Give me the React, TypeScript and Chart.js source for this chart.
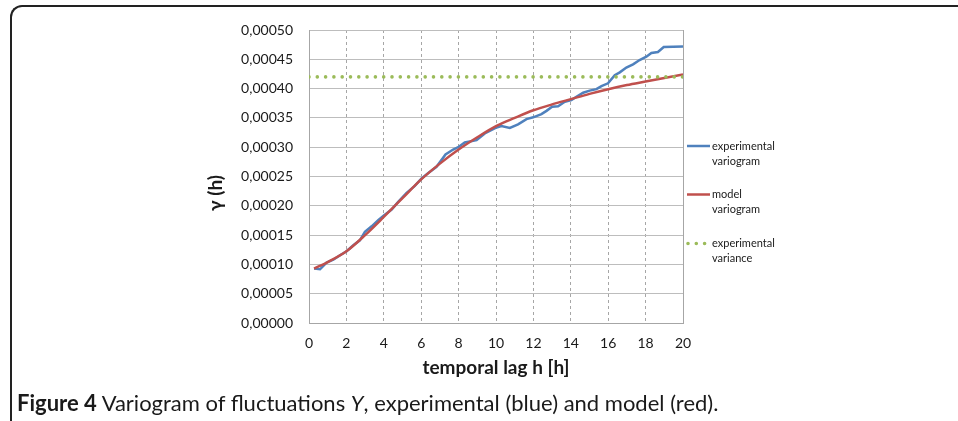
import React, { useEffect, useRef } from "react";
import { Chart, registerables } from "chart.js";

Chart.register(...registerables);

// Experimental variogram: lag h [h] and gamma(h)
const expLag = [
  0.27, 0.59, 0.94, 1.3, 1.66, 2.01, 2.37, 2.72, 2.99, 3.35, 3.7, 4.02, 4.42, 4.77, 5.22,
  5.66, 6.02, 6.38, 6.82, 7.3, 7.71, 8.01, 8.33, 8.96, 9.4, 10.03, 10.29, 10.74, 11.18,
  11.63, 11.99, 12.43, 12.7, 13.0, 13.32, 13.68, 14.03, 14.3, 14.66, 15.01, 15.37, 15.64,
  15.99, 16.35, 16.62, 16.97, 17.33, 17.68, 18.04, 18.31, 18.66, 18.97, 19.47, 20.0,
];
const expGamma = [
  0.0000928, 0.0000917, 0.000103, 0.000108, 0.0001156, 0.0001224, 0.0001327, 0.000141,
  0.0001555, 0.000165, 0.0001754, 0.000184, 0.0001936, 0.0002067, 0.000222, 0.000234,
  0.0002466, 0.000256, 0.0002665, 0.0002876, 0.000296, 0.0003007, 0.000308, 0.000312,
  0.0003235, 0.0003337, 0.000336, 0.000333, 0.000339, 0.000348, 0.000351, 0.0003565,
  0.000362, 0.000369, 0.00037, 0.0003775, 0.0003805, 0.000386, 0.000393, 0.0003965,
  0.000399, 0.0004043, 0.000409, 0.000423, 0.0004277, 0.000436, 0.0004413, 0.0004487,
  0.0004544, 0.0004607, 0.0004624, 0.000471, 0.0004715, 0.000472,
];

// Fitted model variogram
const modelLag = [0.27, 1, 2, 3, 4, 5, 6, 7, 8, 9, 10, 11, 12, 13, 14, 15, 16, 17, 18, 19, 20];
const modelGamma = [
  0.0000928, 0.000104, 0.0001224, 0.00015, 0.000181, 0.000213, 0.000245, 0.000272,
  0.000296, 0.000317, 0.000336, 0.00035, 0.000363, 0.000373, 0.000382, 0.000391, 0.000399,
  0.000406, 0.000412, 0.000418, 0.000424,
];

// Experimental variance (constant level)
const varianceLag = [0, 20];
const varianceValue = [0.00042, 0.00042];

const legendLabels = [
  ["experimental", "variogram"],
  ["model", "variogram"],
  ["experimental", "variance"],
];

const xTitle = "temporal lag h [h]";
const yTitle = "γ (h)";

const FONT = "Lato, 'Open Sans', sans-serif";
const BLUE = "#4F81BD";
const RED = "#C0504D";
const GREEN = "#9BBB59";
const TEXT = "#1a1a1a";

const pts = (xs: number[], ys: number[]) => xs.map((x, i) => ({ x, y: ys[i] }));

const decorPlugin = {
  id: "decor",
  beforeDatasetsDraw(chart: any) {
    const { ctx, chartArea } = chart;
    ctx.save();
    ctx.strokeStyle = "#A6A6A6";
    ctx.lineWidth = 1;
    ctx.beginPath();
    ctx.moveTo(Math.round(chartArea.right) + 0.5, chartArea.top);
    ctx.lineTo(Math.round(chartArea.right) + 0.5, chartArea.bottom);
    ctx.stroke();
    ctx.restore();
  },
  afterDraw(chart: any) {
    const { ctx, chartArea } = chart;
    ctx.save();
    ctx.fillStyle = TEXT;
    // axis titles
    ctx.font = `bold 19px ${FONT}`;
    ctx.textAlign = "center";
    ctx.textBaseline = "middle";
    ctx.fillText(xTitle, (chartArea.left + chartArea.right) / 2, chartArea.bottom + 45);
    ctx.save();
    ctx.translate(chartArea.left - 93, chartArea.top + 163);
    ctx.rotate(-Math.PI / 2);
    ctx.fillText(yTitle, 0, 0);
    ctx.restore();

    // legend
    const x0 = chartArea.right + 4;
    const rows = [chartArea.top + 116, chartArea.top + 164.5, chartArea.top + 213.5];
    chart.data.datasets.forEach((ds: any, i: number) => {
      const y = rows[i];
      ctx.strokeStyle = ds.borderColor;
      ctx.lineWidth = ds.borderWidth;
      ctx.lineCap = ds.borderCapStyle || "butt";
      ctx.setLineDash(ds.borderDash || []);
      ctx.beginPath();
      if (ds.borderDash) {
        ctx.moveTo(x0 + 1, y);
        ctx.lineTo(x0 + 19, y);
      } else {
        ctx.moveTo(x0, y);
        ctx.lineTo(x0 + 23, y);
      }
      ctx.stroke();
      ctx.setLineDash([]);
      ctx.fillStyle = TEXT;
      ctx.font = `11px ${FONT}`;
      ctx.textAlign = "left";
      ctx.textBaseline = "middle";
      legendLabels[i].forEach((line, j) => ctx.fillText(line, x0 + 25, y + j * 15));
    });
    ctx.restore();
  },
};

export default function App() {
  const ref = useRef<HTMLCanvasElement>(null);

  useEffect(() => {
    if (!ref.current) return;
    const chart = new Chart(ref.current, {
      type: "line",
      data: {
        datasets: [
          {
            label: "experimental variogram",
            data: pts(expLag, expGamma),
            borderColor: BLUE,
            borderWidth: 2.5,
            pointRadius: 0,
            tension: 0,
            order: 3,
          },
          {
            label: "model variogram",
            data: pts(modelLag, modelGamma),
            borderColor: RED,
            borderWidth: 2.5,
            pointRadius: 0,
            cubicInterpolationMode: "monotone",
            order: 2,
          },
          {
            label: "experimental variance",
            data: pts(varianceLag, varianceValue),
            borderColor: GREEN,
            borderWidth: 3.6,
            borderDash: [0, 8.3],
            borderCapStyle: "round",
            pointRadius: 0,
            order: 1,
          },
        ],
      },
      options: {
        responsive: false,
        animation: false,
        devicePixelRatio: 1,
        layout: { padding: { top: 30, right: 275, left: 0, bottom: 0 } },
        plugins: { legend: { display: false }, tooltip: { enabled: false } },
        scales: {
          x: {
            type: "linear",
            min: 0,
            max: 20,
            afterFit: (s: any) => {
              s.height = 98;
            },
            ticks: {
              stepSize: 2,
              padding: 12,
              color: TEXT,
              font: { family: FONT, size: 14 },
            },
            grid: { color: "#A6A6A6", lineWidth: 1, drawTicks: false },
            border: { color: "#A6A6A6", width: 1, dash: [3, 3] },
          },
          y: {
            min: 0,
            max: 0.0005,
            afterFit: (s: any) => {
              s.width = 309;
            },
            ticks: {
              stepSize: 0.00005,
              padding: 16,
              color: TEXT,
              font: { family: FONT, size: 14 },
              callback: (v: any) => Number(v).toFixed(5).replace(".", ","),
            },
            grid: { color: "#BDBDBD", lineWidth: 1, drawTicks: false },
            border: { color: "#A6A6A6", width: 1 },
          },
        },
      },
      plugins: [decorPlugin],
    });
    return () => chart.destroy();
  }, []);

  return (
    <div
      style={{
        position: "fixed",
        left: 0,
        top: 0,
        width: 958,
        height: 421,
        overflow: "hidden",
        background: "#fff",
      }}
    >
      <div
        style={{
          position: "absolute",
          left: 10,
          top: 5,
          width: 1000,
          height: 500,
          borderTop: "2px solid #222",
          borderLeft: "2px solid #222",
          borderTopLeftRadius: 12,
          boxSizing: "border-box",
        }}
      />
      <canvas ref={ref} width={958} height={421} style={{ position: "absolute", left: 0, top: 0 }} />
      <div
        style={{
          position: "absolute",
          left: 17,
          top: 390,
          fontFamily: FONT,
          fontSize: 22,
          lineHeight: "26px",
          color: TEXT,
          whiteSpace: "nowrap",
        }}
      >
        <b>Figure 4</b> Variogram of fluctuations <i>Y</i>, experimental (blue) and model (red).
      </div>
    </div>
  );
}
